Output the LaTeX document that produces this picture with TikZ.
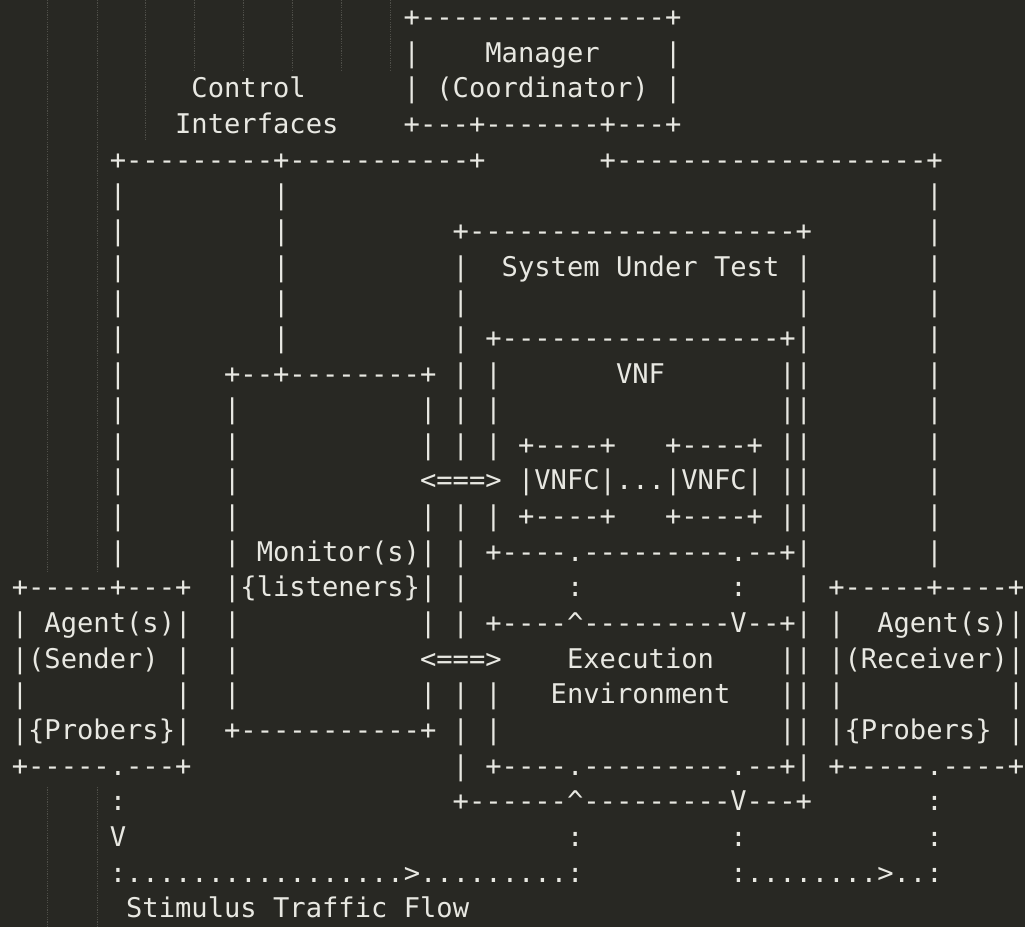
\documentclass[tikz,border=0pt]{standalone}
\usepackage{fontspec}
\setmonofont{DejaVu Sans Mono}
\definecolor{bg}{RGB}{40,40,35}
\definecolor{fg}{RGB}{232,232,226}
\definecolor{guide}{RGB}{78,78,72}
% one character cell: 16.33 wide, 35.65 high
\newcommand\asc[3]{\node[ascii] (r#1c#2) at ({11.8+#2*16.33},{26.5+#1*35.65}) {#3};}
\newcommand\bars[2]{\foreach \c in {#2} {\asc{#1}{\c}{|}}}
\begin{document}
\begin{tikzpicture}[x=1pt,y=-1pt]
    \tikzset{
        ascii/.style={anchor=base west,inner sep=0pt,outer sep=0pt,text=fg,
            font=\ttfamily\fontsize{27.13}{32}\selectfont},
        guide/.style={draw=guide,line width=0.8pt,dash pattern=on 1.2pt off 1.2pt},}
    \fill[bg] (0,0) rectangle (1025,927);
    \useasboundingbox (0,0) rectangle (1025,927);
    % indent guides of the editor
    \foreach \x in {47,97} \draw[guide] (\x,0) -- (\x,573) (\x,787) -- (\x,927);
    \draw[guide] (145,0) -- (145,141);
    \foreach \x in {194,243,292,341,390} \draw[guide] (\x,0) -- (\x,70);
    % manager
    \asc{0}{24}{+---------------+}
    \bars{1}{24,40} \asc{1}{29}{Manager}
    \asc{2}{11}{Control} \bars{2}{24,40} \asc{2}{26}{(Coordinator)}
    \asc{3}{10}{Interfaces} \asc{3}{24}{+---+-------+---+}
    % control interfaces
    \asc{4}{6}{+---------+-----------+} \asc{4}{36}{+-------------------+}
    \bars{5}{6,16,56}
    \bars{6}{6,16,56} \asc{6}{27}{+--------------------+}
    \bars{7}{6,16,27,48,56} \asc{7}{30}{System Under Test}
    \bars{8}{6,16,27,48,56}
    \bars{9}{6,16,27,56} \asc{9}{29}{+-----------------+|}
    \bars{10}{6,27,29,47,48,56} \asc{10}{13}{+--+--------+} \asc{10}{37}{VNF}
    \bars{11}{6,13,25,27,29,47,48,56}
    \bars{12}{6,13,25,27,29,47,48,56} \asc{12}{31}{+----+} \asc{12}{40}{+----+}
    \bars{13}{6,13,47,48,56} \asc{13}{25}{<===>} \asc{13}{31}{|VNFC|...|VNFC|}
    \bars{14}{6,13,25,27,29,47,48,56} \asc{14}{31}{+----+} \asc{14}{40}{+----+}
    \bars{15}{6,13,27,56} \asc{15}{15}{Monitor(s)|} \asc{15}{29}{+----.---------.--+|}
    % agents
    \asc{16}{0}{+-----+---+} \asc{16}{13}{|\{listeners\}|} \bars{16}{27,48}
    \asc{16}{34}{:} \asc{16}{44}{:} \asc{16}{50}{+-----+----+}
    \bars{17}{0,13,25,27,50} \asc{17}{2}{Agent(s)|}
    \asc{17}{29}{+----\textasciicircum---------V--+|} \asc{17}{53}{Agent(s)|}
    \bars{18}{10,13,47,48} \asc{18}{0}{|(Sender)} \asc{18}{25}{<===>}
    \asc{18}{34}{Execution} \asc{18}{50}{|(Receiver)|}
    \bars{19}{0,10,13,25,27,29,47,48,50,61} \asc{19}{33}{Environment}
    \bars{20}{27,29,47,48,61} \asc{20}{0}{|\{Probers\}|} \asc{20}{13}{+-----------+}
    \asc{20}{50}{|\{Probers\}}
    \asc{21}{0}{+-----.---+} \bars{21}{27} \asc{21}{29}{+----.---------.--+|}
    \asc{21}{50}{+-----.----+}
    % traffic flow
    \asc{22}{6}{:} \asc{22}{27}{+------\textasciicircum---------V---+} \asc{22}{56}{:}
    \asc{23}{6}{V} \asc{23}{34}{:} \asc{23}{44}{:} \asc{23}{56}{:}
    \asc{24}{6}{:.................>.........:} \asc{24}{44}{:........>..:}
    \asc{25}{7}{Stimulus Traffic Flow}
\end{tikzpicture}
\end{document}
